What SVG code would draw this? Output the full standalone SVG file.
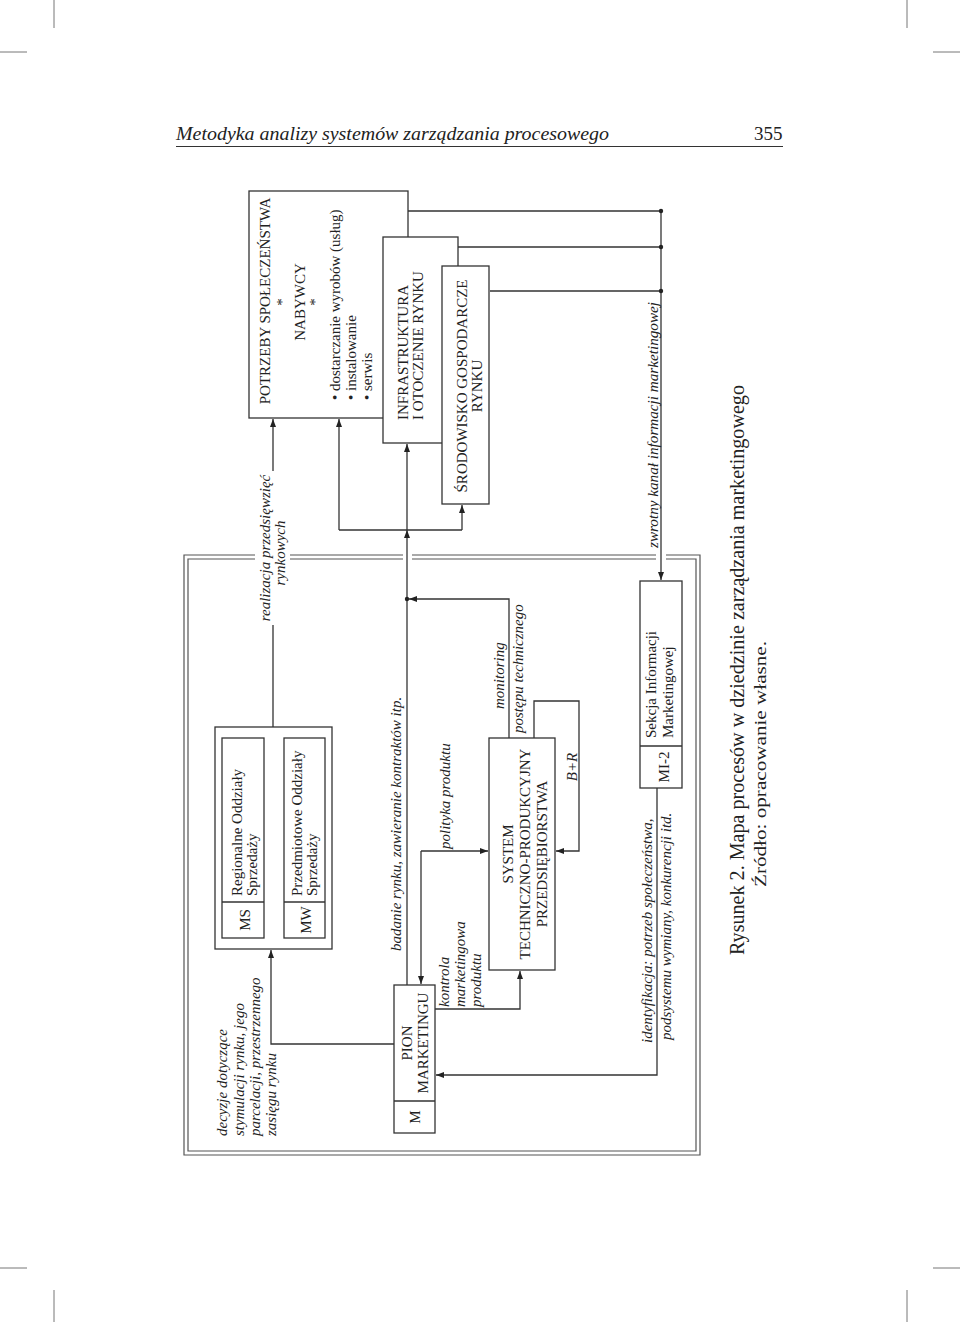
<svg xmlns="http://www.w3.org/2000/svg" width="960" height="1322" viewBox="0 0 960 1322">
<defs>
<style>
.box{fill:#fff;stroke:#333;stroke-width:1.3}
.ln{fill:none;stroke:#333;stroke-width:1.3}
.fr{fill:none;stroke:#555;stroke-width:1.2}
.cm{fill:none;stroke:#777;stroke-width:1}
.t{font-family:"Liberation Serif","Times New Roman",serif;font-size:15px;fill:#222}
.i{font-style:italic;font-size:15px}
.m{text-anchor:middle}
</style>
<marker id="ah" viewBox="0 0 8 6" refX="8" refY="3" markerWidth="8" markerHeight="6" orient="auto" markerUnits="userSpaceOnUse">
<path d="M0,0 L8,3 L0,6 z" fill="#222"/>
</marker>
</defs>
<rect width="960" height="1322" fill="#fff"/>

<g id="cropmarks" class="cm">
<path d="M54,0 V28 M0,52 H27 M907,0 V28 M933,52 H960 M0,1268 H27 M933,1268 H960 M54,1290 V1322 M907,1290 V1322"/>
</g>

<g id="header">
<text class="t i" x="176" y="140" style="font-size:19px" textLength="433" lengthAdjust="spacingAndGlyphs">Metodyka analizy systemów zarządzania procesowego</text>
<text class="t" x="754" y="140" style="font-size:19px">355</text>
<path class="ln" d="M176,146.5 H783" style="stroke-width:1.2"/>
</g>

<g id="frame" class="fr">
<path d="M255,555 H184 V1155 H700 V555 H666 M656,555 H412 M403,555 H290"/>
<path d="M255,559 H188 V1151 H696 V559 H666 M656,559 H412 M403,559 H290"/>
</g>

<g id="potrzeby">
<rect class="box" x="249" y="191" width="159" height="227"/>
<text class="t m" transform="translate(270,301) rotate(-90)">POTRZEBY SPOŁECZEŃSTWA</text>
<text class="t m" transform="translate(287,302) rotate(-90)">*</text>
<text class="t m" transform="translate(305,302) rotate(-90)">NABYWCY</text>
<text class="t m" transform="translate(320,302) rotate(-90)">*</text>
<text class="t" transform="translate(340,400) rotate(-90)">• dostarczanie wyrobów (usług)</text>
<text class="t" transform="translate(356,400) rotate(-90)">• instalowanie</text>
<text class="t" transform="translate(372,400) rotate(-90)">• serwis</text>
</g>

<g id="infrastruktura">
<rect class="box" x="383" y="237" width="75" height="206"/>
<text class="t" transform="translate(408,420) rotate(-90)">INFRASTRUKTURA</text>
<text class="t" transform="translate(423,420) rotate(-90)">I OTOCZENIE RYNKU</text>
</g>

<g id="srodowisko">
<rect class="box" x="442" y="266" width="47" height="238"/>
<text class="t m" transform="translate(467,386) rotate(-90)">ŚRODOWISKO GOSPODARCZE</text>
<text class="t m" transform="translate(482,386) rotate(-90)">RYNKU</text>
</g>

<g id="sprzedaz">
<rect class="box" x="215" y="727" width="117" height="222"/>
<rect class="box" x="222" y="738" width="42" height="200"/>
<path class="ln" d="M222,902 H264"/>
<text class="t m" transform="translate(250,920) rotate(-90)">MS</text>
<text class="t" transform="translate(242,896) rotate(-90)">Regionalne Oddziały</text>
<text class="t" transform="translate(257,896) rotate(-90)">Sprzedaży</text>
<rect class="box" x="284" y="738" width="41" height="200"/>
<path class="ln" d="M284,902 H325"/>
<text class="t m" transform="translate(311,920) rotate(-90)">MW</text>
<text class="t" transform="translate(302,896) rotate(-90)">Przedmiotowe Oddziały</text>
<text class="t" transform="translate(317,896) rotate(-90)">Sprzedaży</text>
</g>

<g id="pion">
<rect class="box" x="394" y="985" width="41" height="148"/>
<path class="ln" d="M394,1101 H435"/>
<text class="t m" transform="translate(412,1043) rotate(-90)">PION</text>
<text class="t m" transform="translate(428,1043) rotate(-90)">MARKETINGU</text>
<text class="t m" transform="translate(420,1117) rotate(-90)">M</text>
</g>

<g id="system">
<rect class="box" x="489" y="738" width="66" height="232"/>
<text class="t m" transform="translate(513,854) rotate(-90)">SYSTEM</text>
<text class="t m" transform="translate(530,854) rotate(-90)">TECHNICZNO-PRODUKCYJNY</text>
<text class="t m" transform="translate(547,854) rotate(-90)">PRZEDSIĘBIORSTWA</text>
</g>

<g id="mi2">
<rect class="box" x="640" y="581" width="42" height="207"/>
<path class="ln" d="M640,746 H682"/>
<text class="t m" transform="translate(669,767) rotate(-90)">MI-2</text>
<text class="t" transform="translate(656,738) rotate(-90)">Sekcja Informacji</text>
<text class="t" transform="translate(673,738) rotate(-90)">Marketingowej</text>
</g>

<g id="connectors">
<path class="ln" d="M273,727 V625 M273,471 V419" marker-end="url(#ah)"/>
<path class="ln" d="M407,985 V530" marker-end="url(#ah)"/>
<path class="ln" d="M407,530 V444" marker-end="url(#ah)"/>
<path class="ln" d="M339,530 H462"/>
<path class="ln" d="M339,530 V419" marker-end="url(#ah)"/>
<path class="ln" d="M462,530 V505" marker-end="url(#ah)"/>
<circle cx="407" cy="599" r="2.2" fill="#222"/>
<path class="ln" d="M509,738 V599 H409" marker-end="url(#ah)"/>
<path class="ln" d="M534,738 V701 H579 V851 H556" marker-end="url(#ah)"/>
<path class="ln" d="M421,851 H488" marker-end="url(#ah)"/>
<path class="ln" d="M421,851 V984" marker-end="url(#ah)"/>
<path class="ln" d="M435,1009 H520 V971" marker-end="url(#ah)"/>
<path class="ln" d="M394,1044 H271 V950" marker-end="url(#ah)"/>
<path class="ln" d="M657,788 V1075 H436" marker-end="url(#ah)"/>
<path class="ln" d="M408,211 H661 M458,247 H661 M490,291 H661"/>
<path class="ln" d="M661,211 V580" marker-end="url(#ah)"/>
<circle cx="661" cy="211" r="2.2" fill="#222"/>
<circle cx="661" cy="247" r="2.2" fill="#222"/>
<circle cx="661" cy="291" r="2.2" fill="#222"/>
</g>

<g id="labels">
<text class="t i" transform="translate(227,1136) rotate(-90)">decyzje dotyczące</text>
<text class="t i" transform="translate(244,1136) rotate(-90)">stymulacji rynku, jego</text>
<text class="t i" transform="translate(260,1136) rotate(-90)">parcelacji, przestrzennego</text>
<text class="t i" transform="translate(276,1136) rotate(-90)">zasięgu rynku</text>
<text class="t i m" transform="translate(270,548) rotate(-90)">realizacja przedsięwzięć</text>
<text class="t i m" transform="translate(285,553) rotate(-90)">rynkowych</text>
<text class="t i" transform="translate(401,951) rotate(-90)">badanie rynku, zawieranie kontraktów itp.</text>
<text class="t i" transform="translate(450,849) rotate(-90)">polityka produktu</text>
<text class="t i" transform="translate(449,1007) rotate(-90)">kontrola</text>
<text class="t i" transform="translate(465,1007) rotate(-90)">marketingowa</text>
<text class="t i" transform="translate(481,1007) rotate(-90)">produktu</text>
<text class="t i" transform="translate(504,709) rotate(-90)">monitoring</text>
<text class="t i" transform="translate(523,733) rotate(-90)">postępu technicznego</text>
<text class="t i m" transform="translate(577,767) rotate(-90)">B+R</text>
<text class="t i" transform="translate(652,1043) rotate(-90)">identyfikacja: potrzeb społeczeństwa,</text>
<text class="t i" transform="translate(671,1040) rotate(-90)">podsystemu wymiany, konkurencji itd.</text>
<text class="t i" transform="translate(658,548) rotate(-90)" textLength="246" lengthAdjust="spacingAndGlyphs">zwrotny kanał informacji marketingowej</text>
</g>

<g id="caption">
<text class="t" style="font-size:21px" transform="translate(744,955) rotate(-90)" textLength="570" lengthAdjust="spacingAndGlyphs">Rysunek 2. Mapa procesów w dziedzinie zarządzania marketingowego</text>
<text class="t" style="font-size:16px" transform="translate(766,887) rotate(-90)" textLength="246" lengthAdjust="spacingAndGlyphs">Źródło: opracowanie własne.</text>
</g>
</svg>
